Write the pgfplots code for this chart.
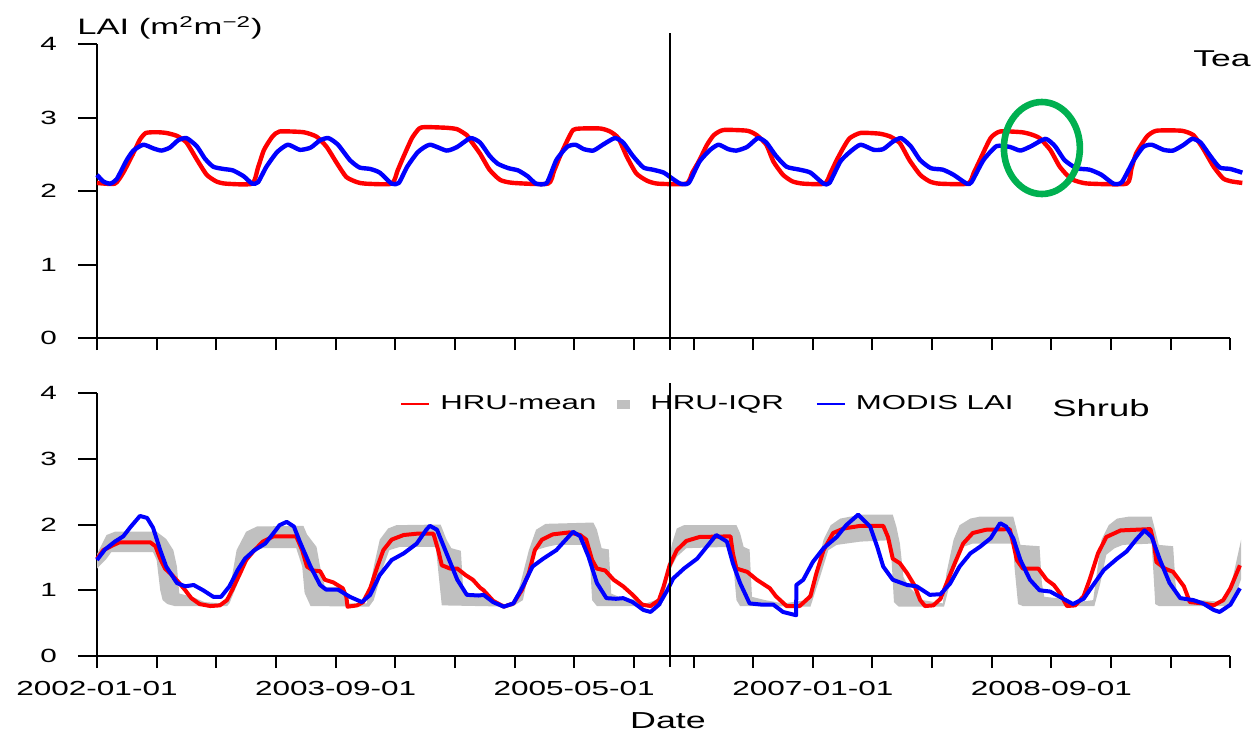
\documentclass[border=0pt]{standalone}
\usepackage{pgfplots}
\pgfplotsset{compat=1.18}
\usepgfplotslibrary{fillbetween}
\usepackage{fontspec}
\setmainfont{Liberation Sans}[FakeStretch=1.55]

\definecolor{hrured}{RGB}{255,0,0}
\definecolor{modisblue}{RGB}{0,0,255}
\definecolor{iqr}{RGB}{192,192,192}
\definecolor{ringgreen}{RGB}{0,176,80}

% x = months since 2002-01-01
\pgfplotstableread{
m lai
0 2.11
1.5 2.10
2.2 2.25
3.0 2.50
3.6 2.70
4.1 2.79
5.0 2.80
5.8 2.79
6.7 2.75
7.5 2.66
8.4 2.42
9.2 2.22
10.0 2.13
10.8 2.10
13.0 2.10
13.5 2.32
14.0 2.56
14.7 2.74
15.3 2.81
17.3 2.80
18.4 2.74
19.25 2.60
20.1 2.38
20.9 2.19
21.8 2.12
22.5 2.10
24.7 2.10
25.2 2.28
25.7 2.47
26.4 2.72
27.0 2.85
27.5 2.87
29.3 2.86
30.2 2.84
31.0 2.76
31.3 2.69
32.1 2.51
32.9 2.29
33.8 2.15
34.9 2.11
37.8 2.10
38.3 2.27
38.8 2.47
39.4 2.68
39.9 2.83
40.5 2.85
42.2 2.85
43.0 2.81
43.7 2.72
44.4 2.47
45.2 2.24
46.1 2.14
47.0 2.10
49.4 2.10
49.9 2.25
50.5 2.42
51.1 2.62
51.7 2.76
52.5 2.83
54.5 2.82
55.3 2.76
56.1 2.63
56.7 2.40
57.5 2.22
58.3 2.13
59.2 2.10
61.0 2.10
61.5 2.25
62.0 2.42
62.6 2.60
63.1 2.72
64.0 2.79
65.6 2.78
66.5 2.74
67.3 2.65
68.1 2.42
69.0 2.22
69.8 2.13
70.6 2.10
73.0 2.10
73.5 2.25
74.0 2.42
74.9 2.72
75.7 2.81
77.5 2.80
78.3 2.77
79.0 2.72
79.9 2.56
80.7 2.33
81.6 2.17
82.4 2.12
83.2 2.10
86.3 2.10
86.7 2.30
87.1 2.51
88.0 2.74
88.8 2.82
90.9 2.82
91.9 2.76
92.7 2.58
93.6 2.33
94.4 2.17
95.1 2.13
96.0 2.11
}\teared

\pgfplotstableread{
m lai
0 2.22
0.53 2.13
1.1 2.10
1.65 2.16
2.49 2.42
3.05 2.55
3.88 2.63
4.72 2.58
5.4 2.55
6.1 2.59
6.8 2.69
7.5 2.72
8.36 2.61
9.05 2.44
9.75 2.33
10.6 2.30
11.4 2.28
12.3 2.20
13.0 2.10
13.5 2.12
14.2 2.33
15.1 2.53
16.0 2.63
17.0 2.56
17.9 2.59
18.7 2.69
19.4 2.72
20.2 2.63
21.2 2.42
22.0 2.32
22.9 2.30
23.7 2.25
24.7 2.10
25.3 2.11
26.0 2.33
26.9 2.53
27.9 2.63
29.3 2.55
30.2 2.60
31.3 2.72
32.1 2.66
32.9 2.48
33.6 2.37
34.5 2.31
35.3 2.28
36.1 2.20
36.8 2.10
37.7 2.11
38.5 2.42
39.4 2.60
40.1 2.63
40.8 2.57
41.6 2.55
42.4 2.63
43.4 2.72
44.1 2.66
44.9 2.48
45.8 2.32
46.6 2.29
47.5 2.25
48.3 2.16
48.9 2.10
49.6 2.11
50.5 2.40
51.4 2.56
52.1 2.63
52.9 2.57
53.6 2.55
54.5 2.60
55.4 2.72
56.1 2.66
56.9 2.48
57.8 2.33
58.9 2.29
59.8 2.25
60.9 2.10
61.4 2.11
62.3 2.40
63.1 2.53
64.0 2.63
65.1 2.56
65.9 2.57
66.7 2.67
67.4 2.72
68.2 2.61
69.0 2.42
69.9 2.31
70.9 2.29
71.8 2.22
72.9 2.10
73.3 2.12
74.3 2.42
75.4 2.61
76.5 2.60
77.4 2.55
78.3 2.61
79.5 2.71
80.3 2.61
81.1 2.42
82.1 2.31
83.2 2.29
84.2 2.22
85.2 2.10
85.9 2.12
86.9 2.42
87.7 2.60
88.4 2.63
89.4 2.56
90.2 2.55
91.1 2.63
91.8 2.71
92.5 2.66
93.3 2.48
94.1 2.32
95.0 2.30
96.0 2.25
}\teablue

\pgfplotstableread{
m lai
0 1.48
0.53 1.61
1.4 1.69
1.9 1.73
4.45 1.73
4.9 1.67
5.3 1.48
5.7 1.33
6.3 1.23
6.8 1.13
7.4 1.00
7.9 0.88
8.6 0.79
9.5 0.76
10.3 0.77
10.9 0.85
11.4 1.03
12.0 1.26
12.5 1.46
13.1 1.59
13.9 1.74
14.8 1.82
16.7 1.82
17.2 1.61
17.6 1.36
18.1 1.30
18.7 1.29
19.1 1.16
19.8 1.12
20.6 1.03
20.9 0.90
21.0 0.75
21.8 0.77
22.3 0.82
22.9 1.03
23.5 1.36
24.0 1.61
24.7 1.77
25.7 1.84
26.8 1.86
28.2 1.86
28.6 1.61
28.9 1.38
29.6 1.33
30.2 1.33
30.9 1.23
31.5 1.16
32.1 1.04
32.4 1.00
33.2 0.84
34.1 0.75
34.9 0.80
35.6 1.00
36.2 1.26
36.7 1.61
37.3 1.77
38.2 1.85
39.6 1.88
40.5 1.84
41.0 1.77
41.5 1.46
41.9 1.33
42.6 1.30
43.3 1.16
44.1 1.06
44.9 0.93
45.7 0.78
46.4 0.76
47.1 0.85
47.5 1.06
48.0 1.38
48.6 1.61
49.4 1.75
50.5 1.81
53.1 1.82
53.3 1.56
53.6 1.33
54.5 1.28
55.3 1.16
56.4 1.03
56.9 0.91
57.8 0.76
58.9 0.76
59.8 0.91
60.3 1.26
60.9 1.61
61.7 1.87
62.6 1.94
64.0 1.98
65.9 1.98
66.3 1.81
66.7 1.48
67.3 1.41
67.9 1.26
68.5 1.08
69.0 0.85
69.4 0.76
70.1 0.77
70.7 0.87
71.2 1.10
71.9 1.41
72.6 1.71
73.4 1.87
74.5 1.92
76.5 1.93
76.8 1.71
77.1 1.46
77.6 1.33
78.9 1.33
79.6 1.16
80.2 1.08
80.7 0.96
81.3 0.76
82.0 0.77
82.7 0.91
83.2 1.16
83.9 1.56
84.6 1.81
85.8 1.91
88.3 1.93
88.6 1.71
88.8 1.43
89.5 1.33
90.2 1.28
91.1 1.06
91.6 0.82
92.7 0.80
93.6 0.77
94.4 0.85
95.0 1.03
95.8 1.38
}\shrubred

\pgfplotstableread{
m lai
0 1.46
0.67 1.62
1.5 1.74
2.2 1.82
2.8 1.96
3.6 2.13
4.2 2.10
4.7 1.95
5.3 1.61
5.8 1.36
6.7 1.11
7.4 1.06
8.1 1.08
8.9 1.00
9.75 0.90
10.4 0.90
11.1 1.06
11.8 1.31
12.4 1.48
13.2 1.61
14.1 1.71
14.8 1.87
15.3 1.99
15.9 2.04
16.5 1.97
17.0 1.74
17.9 1.36
18.7 1.08
19.2 1.01
20.2 1.01
21.2 0.90
22.2 0.82
22.9 0.93
23.7 1.23
24.7 1.46
25.7 1.56
26.8 1.71
27.6 1.92
27.9 1.98
28.5 1.92
29.3 1.56
30.2 1.16
31.0 0.93
32.0 0.92
32.4 0.93
33.2 0.82
34.1 0.75
34.9 0.80
35.7 1.06
36.5 1.36
37.4 1.48
38.5 1.61
39.4 1.79
39.9 1.89
40.5 1.82
41.2 1.51
41.9 1.11
42.7 0.88
43.5 0.87
44.1 0.88
44.9 0.82
45.8 0.70
46.4 0.67
47.1 0.78
47.8 1.00
48.3 1.18
49.2 1.33
50.3 1.48
51.1 1.66
51.9 1.84
52.8 1.74
53.3 1.41
53.9 1.11
54.7 0.80
55.8 0.78
56.7 0.78
57.5 0.67
58.6 0.62
58.62 1.08
59.2 1.16
60.0 1.43
60.9 1.64
62.0 1.81
62.8 1.99
63.8 2.15
64.8 1.97
65.4 1.66
65.9 1.36
66.7 1.16
67.9 1.08
68.7 1.06
69.8 0.93
70.7 0.94
71.5 1.10
72.3 1.36
73.2 1.56
74.0 1.66
74.9 1.79
75.7 2.02
76.2 1.97
76.8 1.79
77.4 1.46
78.2 1.16
79.0 1.00
79.9 0.98
80.7 0.90
81.8 0.79
82.7 0.87
83.5 1.08
84.4 1.31
85.5 1.48
86.3 1.59
87.1 1.77
87.8 1.91
88.4 1.81
89.1 1.46
89.9 1.11
90.8 0.88
91.9 0.85
92.7 0.80
93.6 0.70
94.1 0.67
95.0 0.78
95.8 1.03
}\shrubblue

% interquartile range of the HRUs, upper and lower edge
\pgfplotstableread{
m lai
0 1.55
0.8 1.84
1.5 1.89
5.0 1.89
5.8 1.78
6.4 1.61
6.7 1.36
6.9 0.95
8.0 0.90
9.0 0.82
10.5 0.80
11.0 0.88
11.7 1.61
12.5 1.89
13.4 1.97
17.3 1.98
17.6 1.85
18.4 1.66
18.7 1.36
19.1 1.05
20.5 1.05
21.1 0.80
22.6 0.80
23.2 1.36
23.7 1.77
24.4 1.94
25.1 1.99
28.8 2.00
29.3 1.77
29.7 1.64
30.5 1.60
30.7 1.00
31.3 0.95
33.0 0.86
34.3 0.78
35.0 0.80
35.5 1.11
36.2 1.61
36.8 1.92
37.6 2.01
41.6 2.03
41.9 1.92
42.3 1.64
42.9 1.62
43.1 0.95
44.0 0.88
45.0 0.86
46.0 0.80
47.0 0.86
47.5 1.05
48.2 1.71
48.6 1.94
49.2 1.99
53.6 1.99
53.9 1.87
54.2 1.66
54.7 1.62
54.9 0.90
56.0 0.85
57.5 0.80
59.5 0.85
60.3 1.30
60.9 1.77
61.5 1.99
62.3 2.09
64.0 2.15
66.7 2.15
67.0 1.97
67.3 1.71
67.6 1.20
68.0 1.06
69.2 0.85
70.9 0.80
71.2 1.26
71.8 1.77
72.3 1.99
73.2 2.09
74.0 2.12
76.8 2.12
77.1 1.91
77.4 1.69
79.0 1.67
79.2 1.11
79.4 0.90
80.5 0.88
81.3 0.80
83.5 0.85
83.8 1.26
84.2 1.77
84.8 1.99
85.5 2.09
86.5 2.12
88.4 2.12
88.7 1.91
89.0 1.69
90.2 1.67
90.4 1.11
90.6 0.88
92.5 0.85
94.5 0.82
95.1 1.11
95.9 1.77
}\iqrup

\pgfplotstableread{
m lai
0 1.33
0.8 1.48
1.2 1.58
4.7 1.58
5.0 1.46
5.3 1.00
5.5 0.85
5.9 0.79
6.5 0.76
10.9 0.76
11.1 0.80
11.8 1.11
12.5 1.46
13.1 1.59
13.9 1.64
16.7 1.64
17.2 1.36
17.4 0.96
17.9 0.76
22.8 0.75
23.2 0.85
24.0 1.36
24.5 1.61
25.4 1.66
28.4 1.66
28.6 1.30
28.9 0.77
34.8 0.75
35.7 0.85
36.3 1.36
36.8 1.61
37.7 1.66
38.5 1.69
41.0 1.69
41.3 1.51
41.5 0.85
41.9 0.76
47.3 0.76
48.0 1.30
48.6 1.51
49.4 1.64
53.1 1.66
53.3 1.46
53.6 0.85
53.9 0.76
59.8 0.75
60.6 1.20
61.3 1.61
62.0 1.69
64.0 1.74
66.4 1.76
66.6 1.46
66.8 0.82
67.2 0.75
71.0 0.75
71.5 1.11
72.0 1.51
72.6 1.66
73.4 1.71
76.8 1.71
76.9 1.36
77.2 0.79
77.6 0.76
83.6 0.76
84.1 1.11
84.6 1.54
85.3 1.64
86.0 1.69
88.4 1.71
88.6 1.11
88.7 0.79
89.0 0.76
95.1 0.76
95.9 1.17
}\iqrlo

\pgfplotsset{
  laipanel/.style={
    scale only axis, width=566.7bp,
    xmin=0, xmax=95, ymin=0, ymax=4, clip=false,
    axis x line*=bottom, axis y line*=left,
    axis line style={-, line width=1bp, black},
    tick align=outside, major tick length=9.5bp,
    every tick/.style={black, line width=1bp},
    % x ticks are shorter than y ticks: drawn as extra ticks
    xtick=\empty,
    extra x ticks={0,5,...,95},
    extra x tick style={major tick length=6bp, tick align=outside},
    ytick={0,1,2,3,4},
    /pgf/number format/assume math mode=true,
    yticklabel style={font=\fontsize{9.6}{11}\selectfont, xshift=-7bp},
    xticklabel style={font=\fontsize{10.2}{12}\selectfont, yshift=-3bp},
    line join=round,
  },
}

\begin{document}
\begin{tikzpicture}

\begin{axis}[laipanel, name=top, at={(0bp,0bp)}, anchor=south west,
  height=147bp, extra x tick labels={}]
  \addplot[hrured, line width=2.2bp, smooth, tension=0.35] table[x=m, y=lai] {\teared};
  \addplot[modisblue, line width=2.2bp, smooth, tension=0.35] table[x=m, y=lai] {\teablue};
  \addplot[black, line width=1bp] coordinates {(48,-0.163) (48,4.15)};
  \draw[ringgreen, line width=3.3bp] (axis cs:79.2,2.585) ellipse [x radius=19bp, y radius=23bp];
\end{axis}

\begin{axis}[laipanel, name=bot, at={(0bp,-159bp)}, anchor=south west,
  height=131.5bp,
  extra x tick labels={2002-01-01,,,,2003-09-01,,,,2005-05-01,,,,2007-01-01,,,,2008-09-01,,,},
  legend style={draw=none, fill=none, inner sep=0pt,
    at={(0.2674,0.9575)}, anchor=west, legend columns=3,
    font=\fontsize{10.1}{12}\selectfont,
    /tikz/column 1/.style={column sep=3bp},
    /tikz/column 2/.style={column sep=1bp},
    /tikz/column 3/.style={column sep=8bp},
    /tikz/column 4/.style={column sep=14bp},
    /tikz/column 5/.style={column sep=3bp}}]
  \addplot[name path=up, draw=none, forget plot] table[x=m, y=lai] {\iqrup};
  \addplot[name path=lo, draw=none, forget plot] table[x=m, y=lai] {\iqrlo};
  \addplot[iqr, forget plot] fill between[of=up and lo];
  \addplot[hrured, line width=2bp, forget plot] table[x=m, y=lai] {\shrubred};
  \addplot[modisblue, line width=2bp, forget plot] table[x=m, y=lai] {\shrubblue};
  \addplot[black, line width=1bp, forget plot] coordinates {(48,-0.167) (48,4.15)};
  \addlegendimage{legend image code/.code={\draw[hrured, line width=1bp] (0bp,0bp) -- (14bp,0bp);}}
  \addlegendentry{HRU-mean}
  \addlegendimage{legend image code/.code={\path[draw=none, fill=none] (0bp,0bp) -- (14bp,0bp); \fill[iqr, draw=none] (7.5bp,-2.2bp) rectangle (14bp,2.2bp);}}
  \addlegendentry{HRU-IQR}
  \addlegendimage{legend image code/.code={\draw[modisblue, line width=1bp] (0bp,0bp) -- (14bp,0bp);}}
  \addlegendentry{MODIS LAI}
\end{axis}

\node[anchor=base west, inner sep=0pt, font=\fontsize{11.2}{13}\selectfont]
  at ([xshift=-10bp, yshift=151.5bp]top.south west) {LAI (m\textsuperscript{2}m\textsuperscript{−2})};
\node[anchor=base west, inner sep=0pt, font=\fontsize{11.5}{13}\selectfont]
  at ([xshift=548bp, yshift=135.5bp]top.south west) {Tea};
\node[anchor=base west, inner sep=0pt, font=\fontsize{11.8}{14}\selectfont]
  at ([xshift=477.5bp, yshift=119.6bp]bot.south west) {Shrub};
\node[anchor=base, inner sep=0pt, font=\fontsize{11.6}{14}\selectfont]
  at ([xshift=285.5bp, yshift=-36bp]bot.south west) {Date};

% page = the reference's frame
\pgfresetboundingbox
\useasboundingbox ([xshift=-48.5bp, yshift=169bp]top.south west) rectangle ([xshift=580bp, yshift=-196.5bp]top.south west);
\end{tikzpicture}
\end{document}
